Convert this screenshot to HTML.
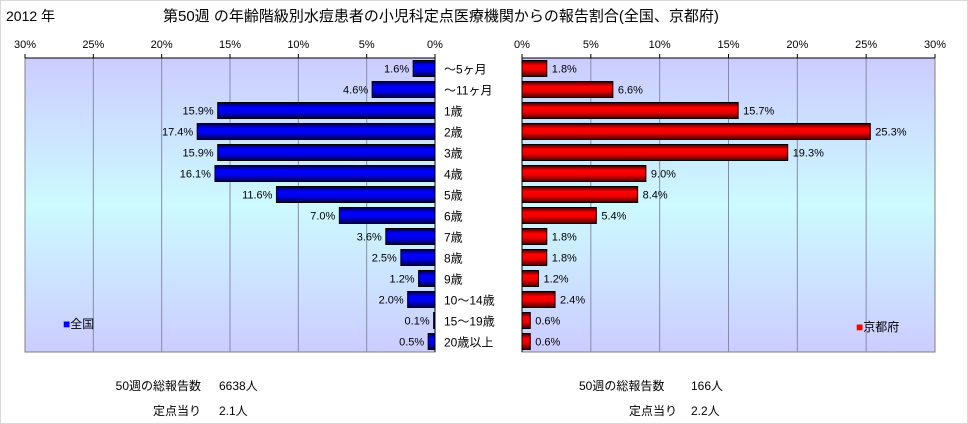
<!DOCTYPE html>
<html><head><meta charset="utf-8">
<style>
body{margin:0;background:#fff;font-family:"Liberation Sans","Noto Sans CJK JP",sans-serif;}
#wrap{position:relative;width:966px;height:422px;border:1px solid #d8d8d8;overflow:hidden;background:#fff}
svg text{font-family:"Liberation Sans","Noto Sans CJK JP",sans-serif;}
</style></head><body>
<div id="wrap">
<svg id="chart" width="968" height="424">
<defs>
<linearGradient id="bg" x1="0" y1="0" x2="0" y2="1">
<stop offset="0" stop-color="#ccccff"/><stop offset="0.5" stop-color="#ccfaff"/><stop offset="1" stop-color="#ccccff"/>
</linearGradient>
<linearGradient id="gb" x1="0" y1="0" x2="0" y2="1">
<stop offset="0" stop-color="#000033"/><stop offset="0.3" stop-color="#0000ff"/><stop offset="0.6" stop-color="#0000ee"/><stop offset="1" stop-color="#000044"/>
</linearGradient>
<linearGradient id="gr" x1="0" y1="0" x2="0" y2="1">
<stop offset="0" stop-color="#330000"/><stop offset="0.3" stop-color="#ff0000"/><stop offset="0.6" stop-color="#ee0000"/><stop offset="1" stop-color="#440000"/>
</linearGradient>
</defs>
<text x="5" y="20" font-size="14">2012 年</text>
<text x="162" y="20" font-size="15">第50週 の年齢階級別水痘患者の小児科定点医療機関からの報告割合(全国、京都府)</text>
<g id="left"></g>
<g id="right"></g>
<g id="cats"></g>
<text x="62" y="327" font-size="12"><tspan fill="#0000ff">■</tspan>全国</text>
<text x="855" y="330" font-size="12"><tspan fill="#ff0000">■</tspan>京都府</text>
<text x="200" y="389" font-size="12" text-anchor="end">50週の総報告数</text>
<text x="218" y="389" font-size="12">6638人</text>
<text x="200" y="414" font-size="12" text-anchor="end">定点当り</text>
<text x="218" y="414" font-size="12">2.1人</text>
<text x="578" y="389" font-size="12">50週の総報告数</text>
<text x="690" y="389" font-size="12">166人</text>
<text x="628" y="414" font-size="12">定点当り</text>
<text x="690" y="414" font-size="12">2.2人</text>
</svg>
</div>
<script>
const categories=["～5ヶ月","～11ヶ月","1歳","2歳","3歳","4歳","5歳","6歳","7歳","8歳","9歳","10～14歳","15～19歳","20歳以上"];
const nationalValues=[1.6,4.6,15.9,17.4,15.9,16.1,11.6,7.0,3.6,2.5,1.2,2.0,0.1,0.5];
const kyotoValues=[1.8,6.6,15.7,25.3,19.3,9.0,8.4,5.4,1.8,1.8,1.2,2.4,0.6,0.6];
const tickValues=[0,5,10,15,20,25,30];
const NS="http://www.w3.org/2000/svg";
const top0=57,bot0=351,rowH=(bot0-top0)/categories.length,barH=16;
function yRow(i){return top0+i*rowH;}
function xLeft(v){return 434-v*(434-24)/30;}
function xRight(v){return 521+v*(934-521)/30;}
function mk(tag,attrs,parent){const e=document.createElementNS(NS,tag);for(const k in attrs)e.setAttribute(k,attrs[k]);parent.appendChild(e);return e;}
function panel(g,xf,vals,fill,side){
  const x0=Math.min(xf(0),xf(30)),x1=Math.max(xf(0),xf(30));
  const bg=mk('rect',{x:x0,y:top0,width:x1-x0,height:bot0-top0,fill:'url(#bg)',stroke:'#808080'},g);
  
  
  tickValues.forEach(t=>{
    const x=xf(t);
    if(t>0&&t<30){const l=mk('line',{x1:x,x2:x,y1:top0,y2:bot0,stroke:'#8a8aa8','stroke-width':1},g);
      
      }
    const tk=mk('line',{x1:x,x2:x,y1:top0-4,y2:top0,stroke:'#000'},g);
    
    
    const tx=mk('text',{x:x,y:47,'font-size':11,'text-anchor':'middle'},g);
    tx.textContent=t+'%';
    
    
  });
  const ax=mk('line',{x1:x0,x2:x1,y1:top0,y2:top0,stroke:'#000'},g);
  
  
  const va=mk('line',{x1:xf(0),x2:xf(0),y1:top0,y2:bot0,stroke:'#000'},g);
  
  
  vals.forEach((v,i)=>{
    const y=yRow(i)+(rowH-barH)/2;
    const a=xf(0),b=xf(v);
    const r=mk('rect',{x:Math.min(a,b),y:y,width:Math.max(1,Math.abs(b-a)),height:barH,fill:fill,stroke:'#000','stroke-width':1},g);
    
    
    const t=mk('text',{x:side==='left'?b-4:b+5,y:y+barH/2+4,'font-size':11,'text-anchor':side==='left'?'end':'start'},g);
    t.textContent=v.toFixed(1)+'%';
    
    
  });
}
panel(document.getElementById('left'),xLeft,nationalValues,'url(#gb)','left');
panel(document.getElementById('right'),xRight,kyotoValues,'url(#gr)','right');
const cg=document.getElementById('cats');
categories.forEach((c,i)=>{
  const t=mk('text',{x:443,y:yRow(i)+rowH/2+5,'font-size':12},cg);
  t.textContent=c;
  
  
});
</script>
</body></html>
